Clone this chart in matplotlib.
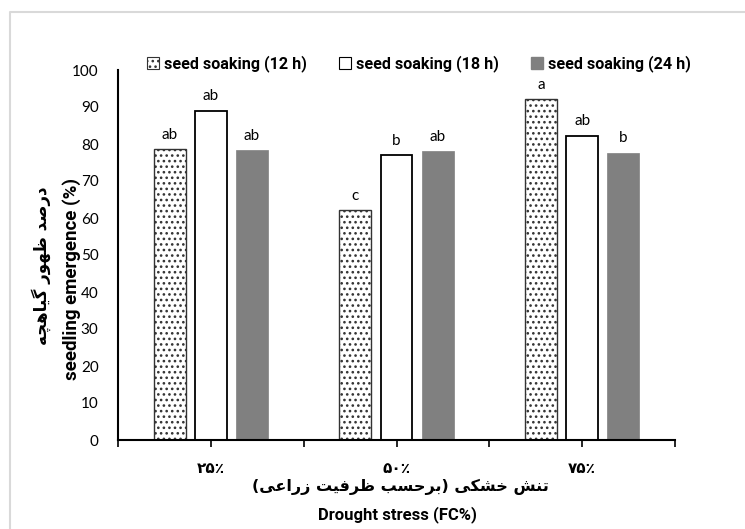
import numpy as np
import matplotlib
matplotlib.use("Agg")
import matplotlib.pyplot as plt
from matplotlib.lines import Line2D
from matplotlib.patches import Patch

# data
stress_labels = ["۲۵٪", "۵۰٪", "۷۵٪"]
series_names = ["seed soaking (12 h)", "seed soaking (18 h)", "seed soaking (24 h)"]
soak_12h = [78.6, 62.1, 92.1]
soak_18h = [89.0, 77.0, 82.2]
soak_24h = [78.4, 78.1, 77.6]
letters_12h = ["ab", "c", "a"]
letters_18h = ["ab", "b", "ab"]
letters_24h = ["ab", "ab", "b"]

# contextual forms for the persian letters used here (iso, fin, ini, med)
FORMS = {
    "\u0627": ("\uFE8D", "\uFE8E"),
    "\u0628": ("\uFE8F", "\uFE90", "\uFE91", "\uFE92"),
    "\u062A": ("\uFE95", "\uFE96", "\uFE97", "\uFE98"),
    "\u062D": ("\uFEA1", "\uFEA2", "\uFEA3", "\uFEA4"),
    "\u062E": ("\uFEA5", "\uFEA6", "\uFEA7", "\uFEA8"),
    "\u062F": ("\uFEA9", "\uFEAA"),
    "\u0631": ("\uFEAD", "\uFEAE"),
    "\u0632": ("\uFEAF", "\uFEB0"),
    "\u0633": ("\uFEB1", "\uFEB2", "\uFEB3", "\uFEB4"),
    "\u0634": ("\uFEB5", "\uFEB6", "\uFEB7", "\uFEB8"),
    "\u0635": ("\uFEB9", "\uFEBA", "\uFEBB", "\uFEBC"),
    "\u0638": ("\uFEC5", "\uFEC6", "\uFEC7", "\uFEC8"),
    "\u0639": ("\uFEC9", "\uFECA", "\uFECB", "\uFECC"),
    "\u0641": ("\uFED1", "\uFED2", "\uFED3", "\uFED4"),
    "\u0646": ("\uFEE5", "\uFEE6", "\uFEE7", "\uFEE8"),
    "\u0647": ("\uFEE9", "\uFEEA", "\uFEEB", "\uFEEC"),
    "\u0648": ("\uFEED", "\uFEEE"),
    "\u06CC": ("\uFBFC", "\uFBFD", "\uFBFE", "\uFBFF"),
    "\u06A9": ("\uFB8E", "\uFB8F", "\uFB90", "\uFB91"),
    "\u06AF": ("\uFB92", "\uFB93", "\uFB94", "\uFB95"),
    "\u0686": ("\uFB7A", "\uFB7B", "\uFB7C", "\uFB7D"),
}
MIRROR = {"(": ")", ")": "("}


def shape_word(word):
    word = word.replace("\u064A", "\u06CC").replace("\u0643", "\u06A9")
    out = []
    for i, ch in enumerate(word):
        if ch not in FORMS:
            out.append(MIRROR.get(ch, ch))
            continue
        prev = word[i - 1] if i > 0 else ""
        nxt = word[i + 1] if i + 1 < len(word) else ""
        join_prev = prev in FORMS and len(FORMS[prev]) == 4
        join_next = len(FORMS[ch]) == 4 and nxt in FORMS
        f = FORMS[ch]
        if join_prev and join_next:
            out.append(f[3])
        elif join_prev:
            out.append(f[1])
        elif join_next:
            out.append(f[2])
        else:
            out.append(f[0])
    return "".join(out[::-1])


def rtl(text):
    # right-to-left line: reverse word order, shape each word
    return " ".join(shape_word(w) for w in text.split(" ")[::-1])


latin = "Lato"
bold_latin = "Roboto"
fa_font = ["DejaVu Sans"]

fig = plt.figure(figsize=(7.45, 5.29), dpi=100)
ax = fig.add_axes([118 / 745, 1 - 440 / 529, (675 - 118) / 745, (440 - 70) / 529])

x = np.arange(len(stress_labels))
w = 0.172
step = 0.222

plt.rcParams["hatch.linewidth"] = 1.1
b1 = ax.bar(x - step, soak_12h, w, color="white", edgecolor="#333333", hatch="...", linewidth=1.0)
b2 = ax.bar(x, soak_18h, w, color="white", edgecolor="black", linewidth=1.3)
b3 = ax.bar(x + step, soak_24h, w, color="#808080", edgecolor="#808080", linewidth=0.5)

for bars, labs in [(b1, letters_12h), (b2, letters_18h), (b3, letters_24h)]:
    for bar, lab in zip(bars, labs):
        ax.text(bar.get_x() + bar.get_width() / 2, bar.get_height() + 2.0, lab,
                ha="center", va="bottom", fontsize=11, family=latin)

ax.set_xlim(-0.5, 2.5)
ax.set_ylim(0, 100)
ax.set_yticks(np.arange(0, 101, 10))
ax.tick_params(axis="y", length=0, pad=14, labelsize=11)
for t in ax.get_yticklabels():
    t.set_family(latin)

ax.set_xticks(x)
ax.set_xticklabels(stress_labels, family=fa_font, fontsize=11, fontweight="bold")
ax.set_xticks([-0.5, 0.5, 1.5, 2.5], minor=True)
ax.tick_params(axis="x", which="both", direction="out", length=5, width=1.2)
ax.tick_params(axis="x", which="major", pad=10)

for side in ["top", "right"]:
    ax.spines[side].set_visible(False)
ax.spines["left"].set_linewidth(1.5)
ax.spines["bottom"].set_linewidth(1.5)

# axis titles (persian + english)
fig.text(400 / 745, 1 - 487 / 529, rtl("تنش خشکی (برحسب ظرفیت زراعی)"),
         ha="center", va="center", family=fa_font, fontsize=11.5, fontweight="bold")
fig.text(397 / 745, 1 - 515 / 529, "Drought stress (FC%)",
         ha="center", va="center", family=bold_latin, fontsize=12, fontweight="bold")
fig.text(72 / 745, 1 - 279 / 529, "seedling emergence (%)", rotation=90,
         ha="center", va="center", family=bold_latin, fontsize=13.5, fontweight="bold")
fig.text(41 / 745, 1 - 266 / 529, rtl("درصد ظهور گیاهچه"), rotation=90,
         ha="center", va="center", family=fa_font, fontsize=12, fontweight="bold")

handles = [
    Patch(facecolor="white", edgecolor="#333333", hatch="...", linewidth=0.8),
    Patch(facecolor="white", edgecolor="black", linewidth=0.8),
    Patch(facecolor="#808080", edgecolor="#808080"),
]
fig.legend(handles, series_names, loc="center", ncol=3,
           bbox_to_anchor=(419 / 745, 1 - 64 / 529), frameon=False,
           prop={"family": bold_latin, "weight": "bold", "size": 11.6},
           handlelength=0.75, handleheight=0.75, handletextpad=0.3, columnspacing=2.0)

# light frame like the exported chart area
fig.add_artist(Line2D([9.5 / 745, 9.5 / 745, 1.0], [0.0, 1 - 12 / 529, 1 - 12 / 529],
                      transform=fig.transFigure, color="#d9d9d9", linewidth=1.5))

fig.savefig("out.png", dpi=100)
